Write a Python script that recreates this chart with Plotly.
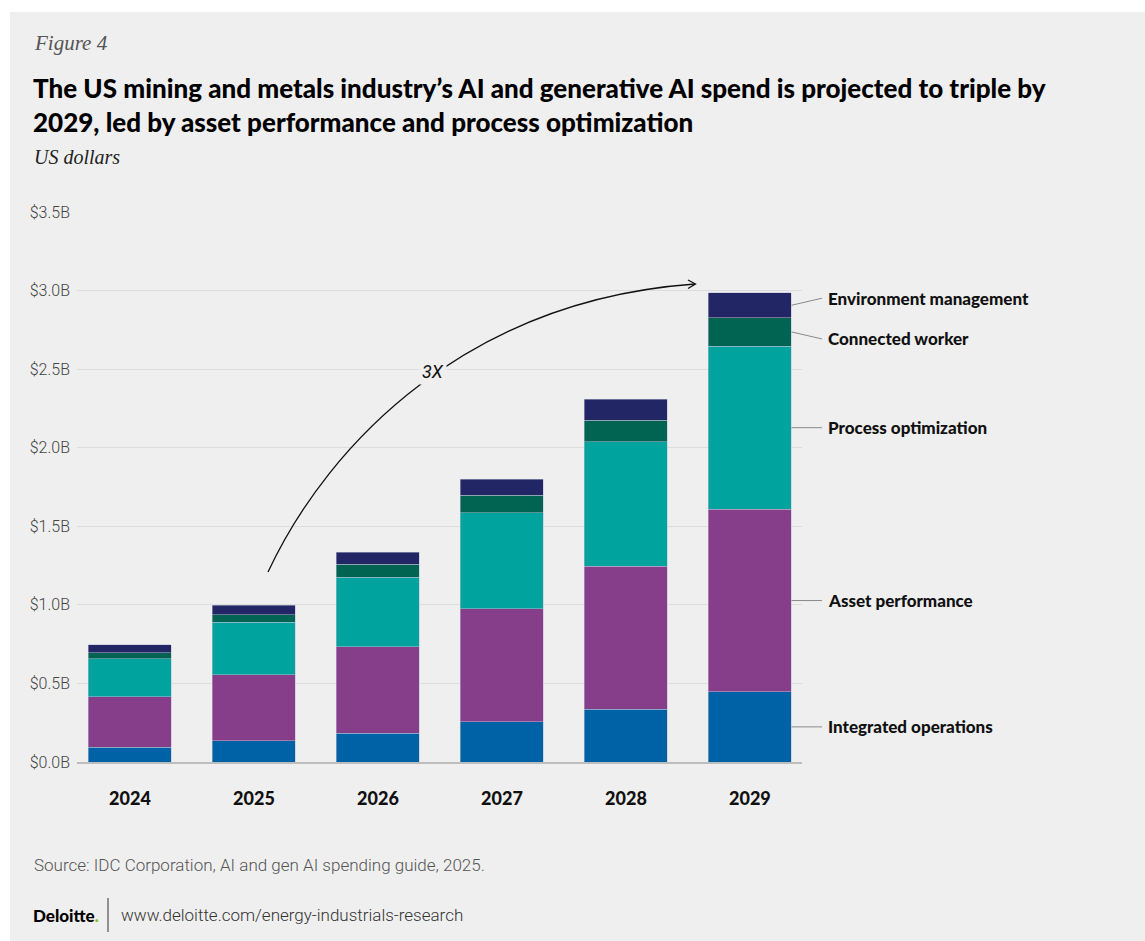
import plotly.graph_objects as go

years = ["2024", "2025", "2026", "2027", "2028", "2029"]
integrated_operations = [0.094, 0.136, 0.184, 0.257, 0.337, 0.447]
asset_performance = [0.322, 0.420, 0.551, 0.719, 0.910, 1.161]
process_optimization = [0.241, 0.332, 0.442, 0.611, 0.791, 1.039]
connected_worker = [0.038, 0.048, 0.081, 0.111, 0.138, 0.180]
environment_management = [0.050, 0.060, 0.078, 0.102, 0.132, 0.159]

series_names = ["Integrated operations", "Asset performance", "Process optimization",
                "Connected worker", "Environment management"]
series_values = [integrated_operations, asset_performance, process_optimization,
                 connected_worker, environment_management]
series_colors = ["#0062A6", "#873E8A", "#00A39D", "#016452", "#232664"]

y_tickvals = [0, 0.5, 1.0, 1.5, 2.0, 2.5, 3.0, 3.5]
y_ticktext = ["$0.0B", "$0.5B", "$1.0B", "$1.5B", "$2.0B", "$2.5B", "$3.0B", "$3.5B"]

BG = "#EFEFEF"
W, H = 1145, 941
L, R, T, B = 77, 802, 212, 762


def px(x):
    return (x - L) / (R - L)


def py(y):
    return (B - y) / (B - T)


fig = go.Figure()
for name, vals, col in zip(series_names, series_values, series_colors):
    fig.add_trace(go.Bar(
        x=years, y=vals, name=name,
        marker=dict(color=col, line=dict(color="#B9BBD2", width=0.5)),
        hoverinfo="x+y+name",
    ))

fig.update_layout(
    width=W, height=H, autosize=False,
    barmode="stack", bargap=0.33,
    paper_bgcolor=BG, plot_bgcolor=BG,
    showlegend=False,
    margin=dict(l=L, r=W - R, t=T, b=H - B, pad=0),
    font=dict(family="Roboto", color="#222"),
)
fig.update_xaxes(
    type="category", range=[-0.427, 5.42],
    showgrid=False, showline=True, linecolor="#BDBDBD", linewidth=1.5,
    ticks="", tickfont=dict(family="Lato", size=18, color="#111", weight=900),
    ticklabelstandoff=20,
)
fig.update_yaxes(
    range=[0, 3.5], tickvals=y_tickvals, ticktext=y_ticktext,
    showgrid=True, gridcolor="#DCDCDC", gridwidth=1, zeroline=False,
    ticks="", tickfont=dict(family="Roboto", size=16, color="#444", weight=300),
    ticklabelstandoff=6,
)

shapes = []
annotations = []

# white frame strips (top & left)
shapes.append(dict(type="rect", xref="paper", yref="paper", x0=px(0), x1=px(W), y0=py(0), y1=py(12),
                   fillcolor="white", line=dict(width=0), layer="below"))
shapes.append(dict(type="rect", xref="paper", yref="paper", x0=px(0), x1=px(10), y0=py(0), y1=py(H),
                   fillcolor="white", line=dict(width=0), layer="below"))

# Header texts
annotations.append(dict(text="Figure 4", xref="paper", yref="paper", x=px(32), y=py(43),
                        xanchor="left", yanchor="middle", showarrow=False,
                        font=dict(family="Liberation Serif", size=21, color="#555", style="italic")))
title_font = dict(family="Lato", size=26, color="#000", weight=900)
annotations.append(dict(text="The US mining and metals industry’s AI and generative AI spend is projected to triple by",
                        xref="paper", yref="paper", x=px(31), y=py(88),
                        xanchor="left", yanchor="middle", showarrow=False, font=title_font))
annotations.append(dict(text="2029, led by asset performance and process optimization",
                        xref="paper", yref="paper", x=px(31), y=py(122),
                        xanchor="left", yanchor="middle", showarrow=False, font=title_font))
annotations.append(dict(text="US dollars", xref="paper", yref="paper", x=px(32), y=py(157),
                        xanchor="left", yanchor="middle", showarrow=False,
                        font=dict(family="Liberation Serif", size=20, color="#222", style="italic")))

# Footer
annotations.append(dict(text="Source: IDC Corporation, AI and gen AI spending guide, 2025.",
                        xref="paper", yref="paper", x=px(32), y=py(865),
                        xanchor="left", yanchor="middle", showarrow=False,
                        font=dict(family="Roboto", size=17, color="#555", weight=300)))
annotations.append(dict(text="Deloitte<span style='color:#86BC25'>.</span>",
                        xref="paper", yref="paper", x=px(31), y=py(915),
                        xanchor="left", yanchor="middle", showarrow=False,
                        font=dict(family="Lato", size=17, color="#000", weight=900)))
shapes.append(dict(type="line", xref="paper", yref="paper", x0=px(108), x1=px(108), y0=py(898), y1=py(932),
                   line=dict(color="#333", width=1)))
annotations.append(dict(text="www.deloitte.com/energy-industrials-research",
                        xref="paper", yref="paper", x=px(119), y=py(915),
                        xanchor="left", yanchor="middle", showarrow=False,
                        font=dict(family="Roboto", size=17, color="#333", weight=300)))

# Right-hand series labels with leader lines (from last bar's segment midpoints)
last = len(years) - 1
bar_right = px(791.5)
lead_end = px(822)
label_x = px(826)
label_offsets = [0, 0, 0, -0.045, 0.045]
cum = 0.0
for name, vals, off in zip(series_names, series_values, label_offsets):
    mid = cum + vals[last] / 2
    cum += vals[last]
    shapes.append(dict(type="line", xref="paper", yref="y", x0=bar_right, x1=lead_end,
                       y0=mid, y1=mid + off, line=dict(color="#8A8A8A", width=1)))
    annotations.append(dict(text=name, xref="paper", yref="y", x=label_x, y=mid + off,
                            xanchor="left", yanchor="middle", showarrow=False,
                            font=dict(family="Lato", size=17, color="#111", weight=900)))

# 3X growth arrow (decorative curve)
p0, c1, c2, p3 = (268, 572), (330, 440), (470, 300), (695, 284)
path = "M {},{} C {},{} {},{} {},{}".format(px(p0[0]), py(p0[1]), px(c1[0]), py(c1[1]),
                                         px(c2[0]), py(c2[1]), px(p3[0]), py(p3[1]))
shapes.append(dict(type="path", xref="paper", yref="paper", path=path,
                   line=dict(color="#111", width=1.3)))
head = "M {},{} L {},{} L {},{}".format(px(688), py(280), px(695.5), py(284), px(688), py(288.5))
shapes.append(dict(type="path", xref="paper", yref="paper", path=head,
                   line=dict(color="#111", width=1.3)))
annotations.append(dict(text="3X", xref="paper", yref="paper", x=px(433), y=py(371),
                        xanchor="center", yanchor="middle", showarrow=False, bgcolor=BG,
                        borderpad=2,
                        font=dict(family="Roboto", size=18, color="#111", style="italic")))

fig.update_layout(shapes=shapes, annotations=annotations)
fig.write_html("out.html", config={"displayModeBar": False},
               post_script="document.body.style.margin='0';document.body.style.overflow='hidden';")
